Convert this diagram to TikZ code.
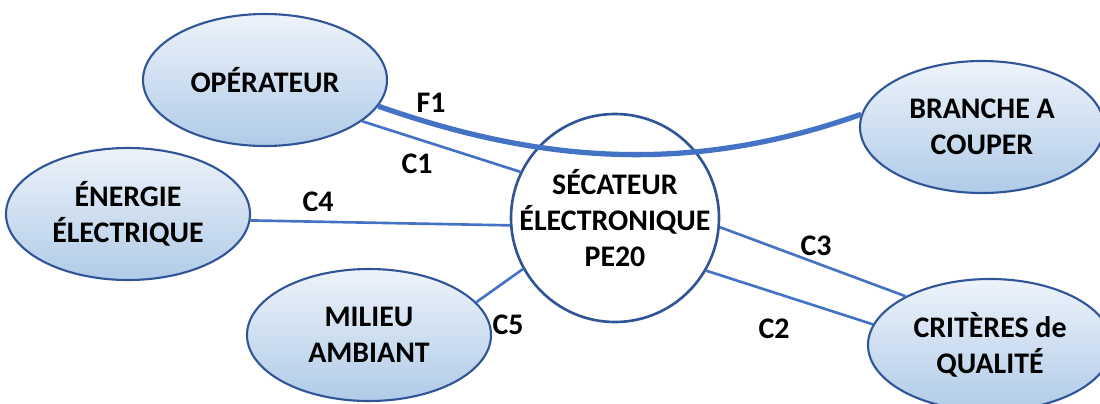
\documentclass[tikz,border=0pt]{standalone}
\usepackage{fontspec}
\setmainfont{Carlito}
\usetikzlibrary{shapes.geometric}
\definecolor{borderBlue}{RGB}{47,85,151}
\definecolor{lineBlue}{RGB}{68,114,196}
\definecolor{fillTop}{RGB}{237,243,250}
\definecolor{fillBottom}{RGB}{176,203,232}

\begin{document}
\begin{tikzpicture}[
    x=0.2mm, y=-0.2mm,
    actor/.style={ellipse, draw=borderBlue, line width=1.2pt, top color=fillTop, bottom color=fillBottom, minimum width=48.8mm, minimum height=26.4mm, inner sep=0pt, font=\fontsize{17}{20.5}\selectfont\bfseries, align=center},
    product/.style={circle, draw=borderBlue, line width=1.5pt, fill=white, minimum size=41.6mm, inner sep=0pt},
    link/.style={draw=lineBlue, line width=1.5pt},
    mainlink/.style={draw=lineBlue, line width=3pt},
    tag/.style={font=\fontsize{17}{20.5}\selectfont\bfseries, align=center}
]
\useasboundingbox (0,0) rectangle (1100,403);

% Product
\node[product, label={[tag]center:SÉCATEUR\\ÉLECTRONIQUE\\PE20}] (sec) at (615,218) {};

% Outside elements
\node[actor] (oper) at (265,80) {OPÉRATEUR};
\node[actor] (energie) at (128,214) {ÉNERGIE\\ÉLECTRIQUE};
\node[actor] (milieu) at (369,335) {MILIEU\\AMBIANT};
\node[actor] (branche) at (982,127) {BRANCHE A\\COUPER};
\node[actor] (crit) at (990,345) {CRITÈRES de\\QUALITÉ};

% Functions
\draw[mainlink] (oper.-13) .. controls (540,163) and (690,175) .. (branche.174);
\draw[link] (oper.-23) -- (sec.154);
\draw[link] (energie.-3) -- (sec.184);
\draw[link] (milieu.17) -- (sec.209);
\draw[link] (sec.-5) -- (crit.150);
\draw[link] (sec.-30) -- (crit.170);

% Labels
\node[tag] (f1) at (431,103) {F1};
\node[tag] (c1) at (417,164) {C1};
\node[tag] (c4) at (318,202) {C4};
\node[tag] (c5) at (508,325) {C5};
\node[tag] (c3) at (816,246) {C3};
\node[tag] (c2) at (774,329) {C2};

\end{tikzpicture}
\end{document}
